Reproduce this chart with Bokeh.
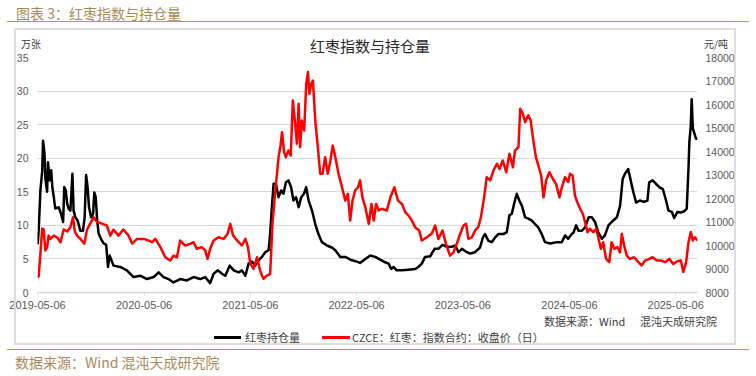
import pandas as pd
from bokeh.plotting import figure
from bokeh.layouts import column
from bokeh.models import (Range1d, LinearAxis, FixedTicker, DatetimeTickFormatter,
                          Div, InlineStyleSheet)
from bokeh.embed import file_html
from bokeh.resources import INLINE

# ---------------- data ----------------
oi_dates = [
    "2019-05-06", "2019-05-07", "2019-05-10", "2019-05-16", "2019-05-22", "2019-05-25", "2019-05-30",
    "2019-06-02", "2019-06-08", "2019-06-11", "2019-06-17", "2019-06-22", "2019-06-26",
    "2019-07-01", "2019-07-06", "2019-07-18", "2019-07-26",
    "2019-08-02", "2019-08-06", "2019-08-11", "2019-08-16", "2019-08-21", "2019-08-27",
    "2019-09-03", "2019-09-07", "2019-09-13", "2019-09-21", "2019-09-30",
    "2019-10-09", "2019-10-15", "2019-10-20", "2019-10-25", "2019-10-30",
    "2019-11-06", "2019-11-13", "2019-11-17", "2019-11-22", "2019-11-27",
    "2019-12-02", "2019-12-10", "2019-12-19", "2019-12-28",
    "2020-01-03", "2020-01-09", "2020-01-22", "2020-02-14", "2020-03-08", "2020-03-31", "2020-04-23",
    "2020-05-16", "2020-06-08", "2020-06-25", "2020-07-12", "2020-07-29", "2020-08-15", "2020-09-07",
    "2020-09-30", "2020-10-23", "2020-11-15", "2020-12-02", "2020-12-19", "2020-12-31",
    "2021-01-14", "2021-01-29", "2021-02-09", "2021-02-24", "2021-03-10", "2021-03-27", "2021-04-07", "2021-04-19",
    "2021-04-30", "2021-05-12", "2021-05-23", "2021-06-03", "2021-06-15", "2021-06-26", "2021-07-08",
    "2021-07-13", "2021-07-19", "2021-07-25", "2021-08-02", "2021-08-11", "2021-08-20", "2021-08-28",
    "2021-09-05", "2021-09-14", "2021-09-23", "2021-10-01", "2021-10-10", "2021-10-19", "2021-10-28",
    "2021-11-06", "2021-11-14", "2021-11-22", "2021-12-04", "2021-12-15", "2021-12-26",
    "2022-01-07", "2022-01-24", "2022-02-10", "2022-02-22", "2022-03-11", "2022-03-28", "2022-04-20", "2022-05-07",
    "2022-05-18", "2022-06-05", "2022-06-22", "2022-07-09", "2022-07-26", "2022-08-12", "2022-08-24", "2022-09-02",
    "2022-09-10", "2022-09-21", "2022-10-09", "2022-10-31", "2022-11-23", "2022-12-04", "2022-12-16", "2022-12-27",
    "2023-01-14", "2023-01-29", "2023-02-11", "2023-02-25", "2023-03-12", "2023-03-29", "2023-04-10", "2023-04-21",
    "2023-05-03", "2023-05-20", "2023-05-31", "2023-06-17", "2023-07-04", "2023-07-14", "2023-07-21", "2023-08-02",
    "2023-08-13", "2023-08-25", "2023-09-05", "2023-09-22", "2023-10-04", "2023-10-13", "2023-10-21", "2023-10-29",
    "2023-11-07", "2023-11-16", "2023-11-25", "2023-12-06", "2023-12-17", "2023-12-29",
    "2024-01-09", "2024-01-20", "2024-02-01", "2024-02-12", "2024-03-01", "2024-03-24", "2024-04-10", "2024-04-21",
    "2024-05-02", "2024-05-14", "2024-05-20", "2024-05-29", "2024-06-06", "2024-06-18", "2024-06-29", "2024-07-11",
    "2024-07-22", "2024-08-02", "2024-08-13", "2024-08-25", "2024-09-05", "2024-09-17", "2024-09-28", "2024-10-16",
    "2024-10-27", "2024-11-05", "2024-11-13", "2024-11-24", "2024-12-04", "2024-12-12", "2024-12-21",
    "2025-01-03", "2025-01-17", "2025-01-29", "2025-02-04", "2025-02-16", "2025-02-27", "2025-03-11", "2025-03-23",
    "2025-04-03", "2025-04-11", "2025-04-23", "2025-05-01", "2025-05-12", "2025-05-24", "2025-06-04", "2025-06-13",
    "2025-06-19", "2025-06-22", "2025-06-27", "2025-06-30", "2025-07-04", "2025-07-08", "2025-07-15", "2025-07-20",
]
oi_values = [
    9.0, 7.3, 9.2, 15.2, 18.0, 22.6, 20.7,
    17.0, 15.0, 19.4, 16.7, 18.2, 15.7,
    14.2, 12.5, 12.7, 11.7,
    10.5, 15.7, 15.2, 13.2, 12.5, 12.2,
    17.7, 12.2, 11.2, 10.7, 9.2,
    9.2, 11.2, 17.5, 15.7, 12.7,
    11.2, 11.7, 14.9, 14.2, 10.7,
    8.8, 8.0, 7.3, 7.1,
    3.8, 5.5, 4.0, 3.8, 3.3, 2.3, 2.5,
    2.0, 2.3, 3.0, 2.3, 2.0, 1.5, 2.0,
    1.8, 2.3, 2.0, 2.3, 1.4, 2.8,
    3.3, 2.8, 2.5, 4.0, 3.3, 3.0, 3.3, 2.5,
    4.3, 4.6, 4.0, 4.8, 5.3, 6.0, 6.3,
    8.7, 12.7, 16.2, 16.2, 14.2, 15.2, 14.7,
    16.4, 16.7, 15.7, 13.7, 14.2, 12.7, 14.2,
    14.7, 15.7, 13.7, 12.2, 10.2, 8.7,
    7.5, 7.0, 6.7, 6.3, 5.3, 5.3, 4.8, 4.6,
    4.4, 5.0, 5.5, 5.3, 4.9, 4.5, 4.3, 3.5,
    3.8, 3.3, 3.3, 3.4, 3.5, 3.8, 4.3, 5.3,
    5.4, 6.5, 6.5, 7.1, 6.8, 6.8, 7.0, 6.0,
    6.5, 6.0, 5.8, 6.0, 6.7, 8.2, 8.7, 7.7,
    7.5, 8.2, 8.7, 8.7, 9.0, 11.5, 11.7, 13.2,
    14.7, 13.7, 12.9, 11.2, 11.0, 10.7,
    10.2, 9.7, 8.7, 7.5, 7.3, 7.5, 7.5, 8.5,
    8.0, 8.7, 8.9, 10.0, 9.2, 9.2, 9.7, 11.2,
    11.2, 10.5, 9.0, 8.0, 8.5, 10.0, 10.5, 11.2,
    12.9, 16.9, 17.7, 18.4, 16.4, 14.9, 13.4,
    13.7, 13.5, 13.7, 16.4, 16.7, 16.2, 15.7, 15.4,
    13.7, 12.2, 12.0, 11.1, 12.0, 11.9, 12.1, 12.5,
    18.4, 22.4, 24.9, 28.8, 24.4, 23.9, 22.9, 22.9,
]

px_dates = [
    "2019-05-06", "2019-05-10", "2019-05-16", "2019-05-22", "2019-05-27", "2019-06-02", "2019-06-08", "2019-06-13",
    "2019-06-19", "2019-07-01", "2019-07-12", "2019-07-24", "2019-08-04", "2019-08-16", "2019-08-27", "2019-09-05",
    "2019-09-11", "2019-09-19", "2019-09-30", "2019-10-14", "2019-10-23", "2019-11-03", "2019-11-15", "2019-11-27",
    "2019-12-13", "2019-12-30",
    "2020-01-11", "2020-01-22", "2020-02-08", "2020-02-25", "2020-03-14", "2020-03-26", "2020-04-12", "2020-05-05",
    "2020-05-22", "2020-06-03", "2020-06-14", "2020-07-01", "2020-07-18", "2020-08-04", "2020-08-15", "2020-08-27",
    "2020-09-07", "2020-09-24", "2020-10-12", "2020-10-23", "2020-11-03", "2020-11-20", "2020-12-02", "2020-12-10",
    "2020-12-19", "2020-12-31",
    "2021-01-17", "2021-02-03", "2021-02-17", "2021-02-26", "2021-03-08", "2021-03-22", "2021-04-07", "2021-04-19",
    "2021-04-28", "2021-05-06", "2021-05-17", "2021-05-29", "2021-06-09", "2021-06-20", "2021-07-02", "2021-07-13",
    "2021-07-21", "2021-07-31", "2021-08-11", "2021-08-17", "2021-08-23", "2021-08-30", "2021-09-05", "2021-09-14",
    "2021-09-22", "2021-09-29", "2021-10-07", "2021-10-13", "2021-10-19", "2021-10-24", "2021-10-30", "2021-11-07",
    "2021-11-14", "2021-11-20", "2021-11-25", "2021-12-01", "2021-12-07", "2021-12-15", "2021-12-24",
    "2022-01-01", "2022-01-09", "2022-01-18", "2022-01-27", "2022-02-05", "2022-02-13", "2022-02-22", "2022-03-05",
    "2022-03-17", "2022-03-28", "2022-04-06", "2022-04-14", "2022-04-22", "2022-05-01", "2022-05-11", "2022-05-18",
    "2022-05-26", "2022-06-05", "2022-06-17", "2022-06-26", "2022-07-04", "2022-07-12", "2022-07-21", "2022-08-01",
    "2022-08-18", "2022-08-30", "2022-09-13", "2022-09-25", "2022-10-09", "2022-10-20", "2022-10-31", "2022-11-12",
    "2022-11-23", "2022-12-07", "2022-12-16",
    "2023-01-02", "2023-01-19", "2023-01-31", "2023-02-11", "2023-02-25", "2023-03-09", "2023-03-23", "2023-04-04",
    "2023-04-15", "2023-04-27", "2023-05-08", "2023-05-17", "2023-05-25", "2023-06-06", "2023-06-17", "2023-06-28",
    "2023-07-07", "2023-07-18", "2023-07-27", "2023-08-08", "2023-08-19", "2023-08-31", "2023-09-09", "2023-09-20",
    "2023-10-02", "2023-10-13", "2023-10-25", "2023-11-01", "2023-11-13", "2023-11-19", "2023-11-28", "2023-12-06",
    "2023-12-17", "2023-12-25",
    "2024-01-03", "2024-01-12", "2024-01-22", "2024-01-30", "2024-02-07", "2024-02-16", "2024-02-27", "2024-03-10",
    "2024-03-21", "2024-04-02", "2024-04-10", "2024-04-21", "2024-05-02", "2024-05-08", "2024-05-17", "2024-05-25",
    "2024-06-02", "2024-06-12", "2024-06-21", "2024-06-29", "2024-07-07", "2024-07-16", "2024-07-27", "2024-08-06",
    "2024-08-13", "2024-08-22", "2024-08-30", "2024-09-09", "2024-09-20", "2024-09-28", "2024-10-07", "2024-10-18",
    "2024-10-27", "2024-11-02", "2024-11-10", "2024-11-19", "2024-11-30", "2024-12-14", "2024-12-29",
    "2025-01-09", "2025-01-21", "2025-02-04", "2025-02-16", "2025-03-02", "2025-03-16", "2025-03-31", "2025-04-14",
    "2025-04-28", "2025-05-12", "2025-05-24", "2025-06-01", "2025-06-11", "2025-06-19", "2025-06-27", "2025-07-04",
    "2025-07-11", "2025-07-20",
]
px_values = [
    8650, 8680, 9660, 10720, 10680, 9790, 9930, 10420,
    10280, 10420, 10350, 10140, 10680, 10600, 10780, 11200,
    10600, 10420, 10280, 10080, 10680, 10930, 11200, 11000,
    10930, 10850,
    10420, 10680, 10420, 10680, 10420, 10080, 10280, 10280,
    10210, 10140, 10280, 9930, 9500, 9360, 9570, 9500,
    10210, 10000, 10070, 10140, 9860, 9930, 9790, 9430,
    9860, 10210,
    10350, 10280, 10500, 10920, 10420, 10210, 10000, 10280,
    9930, 9220, 9010, 9500, 8920, 8580, 8720, 8780,
    10920, 12340, 13760, 14180, 14820, 13970, 13760, 14040,
    13830, 16170, 15180, 14330, 16030, 14180, 15320, 14890,
    16880, 17380, 16460, 16880, 17020, 15320, 14180,
    13050, 13050, 13760, 13050, 13620, 14250, 13760, 13050,
    12480, 11910, 12200, 11060, 11910, 12340, 12480, 12770,
    12050, 11630, 10920, 11770, 11060, 11770, 11490, 11560,
    11490, 12050, 12480, 11910, 11770, 11420, 11280, 11060,
    10780, 10640, 10210,
    10350, 10500, 10850, 10280, 10640, 10070, 9570, 9710,
    10070, 10500, 10850, 10920, 10280, 10350, 10640, 10780,
    11200, 12050, 12910, 12770, 13190, 13480, 13260, 13620,
    13120, 13900, 13330, 14040, 14180, 15820, 15610, 15250,
    15540, 15320,
    14470, 13760, 13330, 12980, 12050, 12770, 13120, 12840,
    12620, 12050, 12480, 12910, 12700, 13050, 12980, 12130,
    11840, 11560, 11350, 10990, 10570, 10710, 10570, 10710,
    10350, 9860, 10140, 9430, 9290, 10140, 9860, 9930,
    9710, 10500, 10000, 9570, 9430, 9500, 9290,
    9150, 9360, 9430, 9500, 9360, 9360, 9290, 9430,
    9220, 9330, 9360, 8870, 9290, 10140, 10570, 10210,
    10350, 10210,
]

x_tick_labels = ["2019-05-06", "2020-05-06", "2021-05-06", "2022-05-06",
                 "2023-05-06", "2024-05-06", "2025-05-06"]
left_ticks = [0, 5, 10, 15, 20, 25, 30, 35]
right_ticks = [8000, 9000, 10000, 11000, 12000, 13000, 14000, 15000, 16000, 17000, 18000]

oi_name = "红枣持仓量"
px_name = "CZCE：红枣：指数合约：收盘价（日）"
page_title = "图表 3：红枣指数与持仓量"
chart_title = "红枣指数与持仓量"
left_unit = "万张"
right_unit = "元/吨"
note_a = "数据来源：Wind"
note_b = "混沌天成研究院"
footer = "数据来源：Wind 混沌天成研究院"

# ---------------- styling ----------------
CJK = "Noto Sans CJK SC"
NUM = "Liberation Sans"
GOLD = "#b8975c"
GOLD_TXT = "#a88a56"
GRID = "#d9d9d9"
BOX = "#dedede"
AX_TXT = "#595959"
OI_COLOR = "#000000"
PX_COLOR = "#ff0000"

W = 756
HEAD_H, TOP_H, PH, LEG_H, FOOT_H = 29, 21, 266, 30, 30
ML, MR, MT, MB = 37, 59, 7, 24

oi_x = pd.to_datetime(oi_dates)
px_x = pd.to_datetime(px_dates)

p = figure(width=W, height=PH, output_backend="svg", toolbar_location=None,
           x_axis_type="datetime",
           x_range=Range1d(oi_x.min(), oi_x.max()),
           y_range=Range1d(left_ticks[0], left_ticks[-1]),
           min_border_left=ML, min_border_right=MR, min_border_top=MT, min_border_bottom=MB)
p.outline_line_color = None
p.border_fill_color = None
p.background_fill_alpha = 0

p.extra_y_ranges = {"px": Range1d(right_ticks[0], right_ticks[-1])}

p.xgrid.visible = False
p.ygrid.ticker = FixedTicker(ticks=left_ticks)
p.ygrid.grid_line_color = GRID
p.ygrid.grid_line_width = 1

xa = p.xaxis[0]
xa.ticker = FixedTicker(ticks=[pd.Timestamp(s).value / 1e6 for s in x_tick_labels])
fmt = "%Y-%m-%d"
xa.formatter = DatetimeTickFormatter(days=fmt, months=fmt, years=fmt, hours=fmt,
                                     hourmin=fmt, minutes=fmt, minsec=fmt, seconds=fmt,
                                     milliseconds=fmt, microseconds=fmt)
xa.axis_line_color = GRID
xa.axis_line_width = 1.5
xa.major_tick_line_color = GRID
xa.major_tick_out = 3
xa.major_tick_in = 0
xa.minor_tick_out = 0
xa.minor_tick_line_color = None
xa.major_label_text_font = NUM
xa.major_label_text_font_size = "11px"
xa.major_label_text_color = AX_TXT
xa.major_label_standoff = 5

def style_y(ax, standoff):
    ax.axis_line_color = None
    ax.major_tick_line_color = None
    ax.minor_tick_line_color = None
    ax.major_tick_out = 0
    ax.major_tick_in = 0
    ax.minor_tick_out = 0
    ax.minor_tick_in = 0
    ax.major_label_text_font = NUM
    ax.major_label_text_font_size = "10.5px"
    ax.major_label_text_color = AX_TXT
    ax.major_label_standoff = standoff

ya = p.yaxis[0]
ya.ticker = FixedTicker(ticks=left_ticks)
style_y(ya, 9)

ra = LinearAxis(y_range_name="px", ticker=FixedTicker(ticks=right_ticks))
style_y(ra, 8)
p.add_layout(ra, "right")

p.line(oi_x, oi_values, line_color=OI_COLOR, line_width=2.5, line_join="round")
p.line(px_x, px_values, line_color=PX_COLOR, line_width=2.5, line_join="round",
       y_range_name="px")

# ---------------- page around the plot ----------------
def span(text, left, top, size, color, extra=""):
    return (f'<span style="position:absolute;left:{left}px;top:{top}px;font-family:\'{CJK}\';'
            f'font-size:{size}px;line-height:{size}px;color:{color};white-space:nowrap;{extra}">{text}</span>')

def swatch(left, top, width, color):
    return (f'<span style="position:absolute;left:{left}px;top:{top}px;width:{width}px;'
            f'height:3px;background:{color}"></span>')

def block(height, inner):
    return Div(text=f'<div style="position:relative;width:{W}px;height:{height}px">{inner}</div>',
               width=W, height=height, margin=0, styles={"height": f"{height}px"})

header = block(HEAD_H, span(page_title, 16, 5.5, 14, GOLD_TXT))
heading = block(TOP_H, span(left_unit, 21, 9.5, 10, "#404040")
                + span(chart_title, 310, 8.5, 15, "#262626", "width:120px;text-align:center")
                + span(right_unit, 704, 9.5, 10, "#404040"))
legend_row = block(LEG_H, span(note_a, 544, -0.5, 11, "#404040")
                   + span(note_b, 640, -0.5, 11, "#404040")
                   + swatch(214, 19.5, 27, OI_COLOR) + span(oi_name, 245, 15.5, 11, "#404040")
                   + swatch(322, 19.5, 28, PX_COLOR) + span(px_name, 352, 15.5, 11, "#404040"))
foot = block(FOOT_H, span(footer, 15, 9, 14, GOLD_TXT))

css = f"""
:host {{ position: relative; }}
:host::before {{ content: ""; position: absolute; left: 14px; top: 28px; width: 718px; height: 313px;
                 border: 2px solid {BOX}; pointer-events: none; z-index: 5; }}
:host::after {{ content: ""; position: absolute; left: 7px; top: 21.25px; width: 742px; height: 326.5px;
                border-top: 1.5px solid {GOLD}; border-bottom: 1.5px solid {GOLD};
                pointer-events: none; z-index: 5; }}
"""

page = column(header, heading, p, legend_row, foot, spacing=0,
              stylesheets=[InlineStyleSheet(css=css)])

open("out.html", "w").write(file_html(page, INLINE))
